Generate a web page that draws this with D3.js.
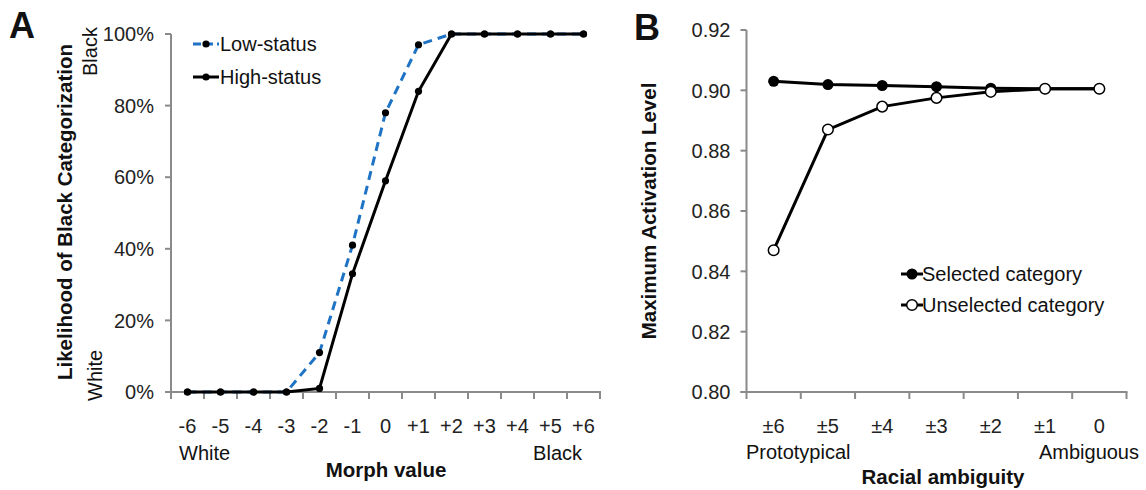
<!DOCTYPE html>
<meta charset="utf-8">
<script src="https://cdn.jsdelivr.net/npm/d3@7"></script>
<style>
  body { margin: 0; background: #fff; }
  text { font-family: "Liberation Sans", Arial, sans-serif; fill: #111; }
</style>
<body>
<div id="chart"></div>
<script>
  // panel A data
  var morphs = ["-6","-5","-4","-3","-2","-1","0","+1","+2","+3","+4","+5","+6"];
  var lowStatus  = [0, 0, 0, 0, 0.11, 0.41, 0.78, 0.97, 1, 1, 1, 1, 1];
  var highStatus = [0, 0, 0, 0, 0.01, 0.33, 0.59, 0.84, 1, 1, 1, 1, 1];
  var pctTicks = [0, 0.2, 0.4, 0.6, 0.8, 1];

  // panel B data
  var ambig = ["\u00b16","\u00b15","\u00b14","\u00b13","\u00b12","\u00b11","0"];
  var selected   = [0.903, 0.9019, 0.9016, 0.9012, 0.9007, 0.9005, 0.9005];
  var unselected = [0.847, 0.887, 0.8946, 0.8975, 0.8995, 0.9005, 0.9005];
  var actTicks = [0.80, 0.82, 0.84, 0.86, 0.88, 0.90, 0.92];

  var axisCol = "#8a8a8a", blue = "#1f73c5";

  var svg = d3.select("#chart").append("svg")
      .attr("width", 1146).attr("height", 490);

  // draws the Excel-like frame: y line + ticks, x line + ticks between categories
  function frame(x, y, yTicks, fmt, labelGap) {
    var g = svg.append("g");
    var x0 = x.range()[0], x1 = x.range()[1];
    var y0 = y.range()[0], y1 = y.range()[1];
    g.append("line").attr("x1", x0).attr("x2", x0).attr("y1", y0).attr("y2", y1)
      .attr("stroke", axisCol).attr("stroke-width", 2);
    g.append("line").attr("x1", x0 - 6).attr("x2", x1 + 1).attr("y1", y0).attr("y2", y0)
      .attr("stroke", axisCol).attr("stroke-width", 2);
    g.selectAll(".yt").data(yTicks).enter().append("line")
      .attr("x1", x0 - 6).attr("x2", x0)
      .attr("y1", function(d) { return y(d); }).attr("y2", function(d) { return y(d); })
      .attr("stroke", axisCol).attr("stroke-width", 2);
    g.selectAll(".yl").data(yTicks).enter().append("text")
      .attr("x", x0 - labelGap).attr("y", function(d) { return y(d); })
      .attr("dy", "0.36em").attr("text-anchor", "end")
      .style("font-size", "20px").style("fill", "#222")
      .text(fmt);
    var bounds = d3.range(x.domain().length + 1);
    g.selectAll(".xt").data(bounds).enter().append("line")
      .attr("x1", function(i) { return x0 + i * x.step(); })
      .attr("x2", function(i) { return x0 + i * x.step(); })
      .attr("y1", y0).attr("y2", y0 + 7)
      .attr("stroke", axisCol).attr("stroke-width", 2);
    g.selectAll(".xl").data(x.domain()).enter().append("text")
      .attr("x", function(d) { return x(d) + x.bandwidth() / 2; })
      .attr("y", 433).attr("text-anchor", "middle")
      .style("font-size", "20px").style("fill", "#222")
      .text(function(d) { return d; });
  }

  function txt(s, x, y, size, bold, anchor, rot) {
    var t = svg.append("text")
      .attr("text-anchor", anchor || "start")
      .style("font-size", size + "px")
      .style("font-weight", bold ? "bold" : "normal")
      .text(s);
    if (rot) t.attr("transform", "translate(" + x + "," + y + ")rotate(-90)");
    else t.attr("x", x).attr("y", y);
    return t;
  }

  // ---------- Panel A ----------
  var xA = d3.scaleBand().domain(morphs).range([171, 600]);
  var yA = d3.scaleLinear().domain([0, 1]).range([392, 34]);
  frame(xA, yA, pctTicks, function(d) { return Math.round(d * 100) + "%"; }, 17);

  var cx = function(d, i) { return xA(morphs[i]) + xA.bandwidth() / 2; };
  var lineA = d3.line().x(cx).y(function(d) { return yA(d); });

  svg.append("path").datum(lowStatus).attr("d", lineA)
    .attr("fill", "none").attr("stroke", blue).attr("stroke-width", 3)
    .attr("stroke-dasharray", "9,6");
  svg.append("path").datum(highStatus).attr("d", lineA)
    .attr("fill", "none").attr("stroke", "#000").attr("stroke-width", 3);
  [lowStatus, highStatus].forEach(function(s) {
    svg.append("g").selectAll("circle").data(s).enter().append("circle")
      .attr("cx", cx).attr("cy", function(d) { return yA(d); })
      .attr("r", 3.6).attr("fill", "#000");
  });

  // legend A
  svg.append("line").attr("x1", 193).attr("x2", 219).attr("y1", 44).attr("y2", 44)
    .attr("stroke", blue).attr("stroke-width", 3).attr("stroke-dasharray", "8,4");
  svg.append("circle").attr("cx", 206).attr("cy", 44).attr("r", 3.6).attr("fill", "#000");
  svg.append("line").attr("x1", 193).attr("x2", 219).attr("y1", 77).attr("y2", 77)
    .attr("stroke", "#000").attr("stroke-width", 3);
  svg.append("circle").attr("cx", 206).attr("cy", 77).attr("r", 3.6).attr("fill", "#000");
  txt("Low-status", 220, 51, 20);
  txt("High-status", 220, 84, 20);

  txt("A", 9, 38, 36, true);
  txt("Likelihood of Black Categorization", 72, 212, 20.5, true, "middle", true);
  txt("Black", 97, 76, 20, false, "start", true);
  txt("White", 102, 401, 20, false, "start", true);
  txt("White", 179, 460, 20);
  txt("Black", 582, 460, 20, false, "end");
  txt("Morph value", 386, 477, 20.5, true, "middle");

  // ---------- Panel B ----------
  var xB = d3.scaleBand().domain(ambig).range([746.5, 1126.5]);
  var yB = d3.scaleLinear().domain([0.80, 0.92]).range([392, 30]);
  frame(xB, yB, actTicks, d3.format(".2f"), 16);

  var cxB = function(d, i) { return xB(ambig[i]) + xB.bandwidth() / 2; };
  var lineB = d3.line().x(cxB).y(function(d) { return yB(d); });

  svg.append("path").datum(selected).attr("d", lineB)
    .attr("fill", "none").attr("stroke", "#000").attr("stroke-width", 3);
  svg.append("g").selectAll("circle").data(selected).enter().append("circle")
    .attr("cx", cxB).attr("cy", function(d) { return yB(d); })
    .attr("r", 5.5).attr("fill", "#000");
  svg.append("path").datum(unselected).attr("d", lineB)
    .attr("fill", "none").attr("stroke", "#000").attr("stroke-width", 3);
  svg.append("g").selectAll("circle").data(unselected).enter().append("circle")
    .attr("cx", cxB).attr("cy", function(d) { return yB(d); })
    .attr("r", 5.3).attr("fill", "#fff").attr("stroke", "#000").attr("stroke-width", 1.5);

  // legend B
  svg.append("line").attr("x1", 901).attr("x2", 923).attr("y1", 274).attr("y2", 274)
    .attr("stroke", "#000").attr("stroke-width", 3);
  svg.append("circle").attr("cx", 912).attr("cy", 274).attr("r", 5.5).attr("fill", "#000");
  svg.append("line").attr("x1", 901).attr("x2", 923).attr("y1", 305).attr("y2", 305)
    .attr("stroke", "#000").attr("stroke-width", 3);
  svg.append("circle").attr("cx", 912).attr("cy", 305).attr("r", 5.3)
    .attr("fill", "#fff").attr("stroke", "#000").attr("stroke-width", 1.5);
  txt("Selected category", 922, 281, 20);
  txt("Unselected category", 922, 312, 20);

  txt("B", 634, 40, 36, true);
  txt("Maximum Activation Level", 656, 211, 20.5, true, "middle", true);
  txt("Prototypical", 746, 459, 20);
  txt("Ambiguous", 1139, 459, 20, false, "end");
  txt("Racial ambiguity", 943, 484, 20.5, true, "middle");
</script>
</body>
